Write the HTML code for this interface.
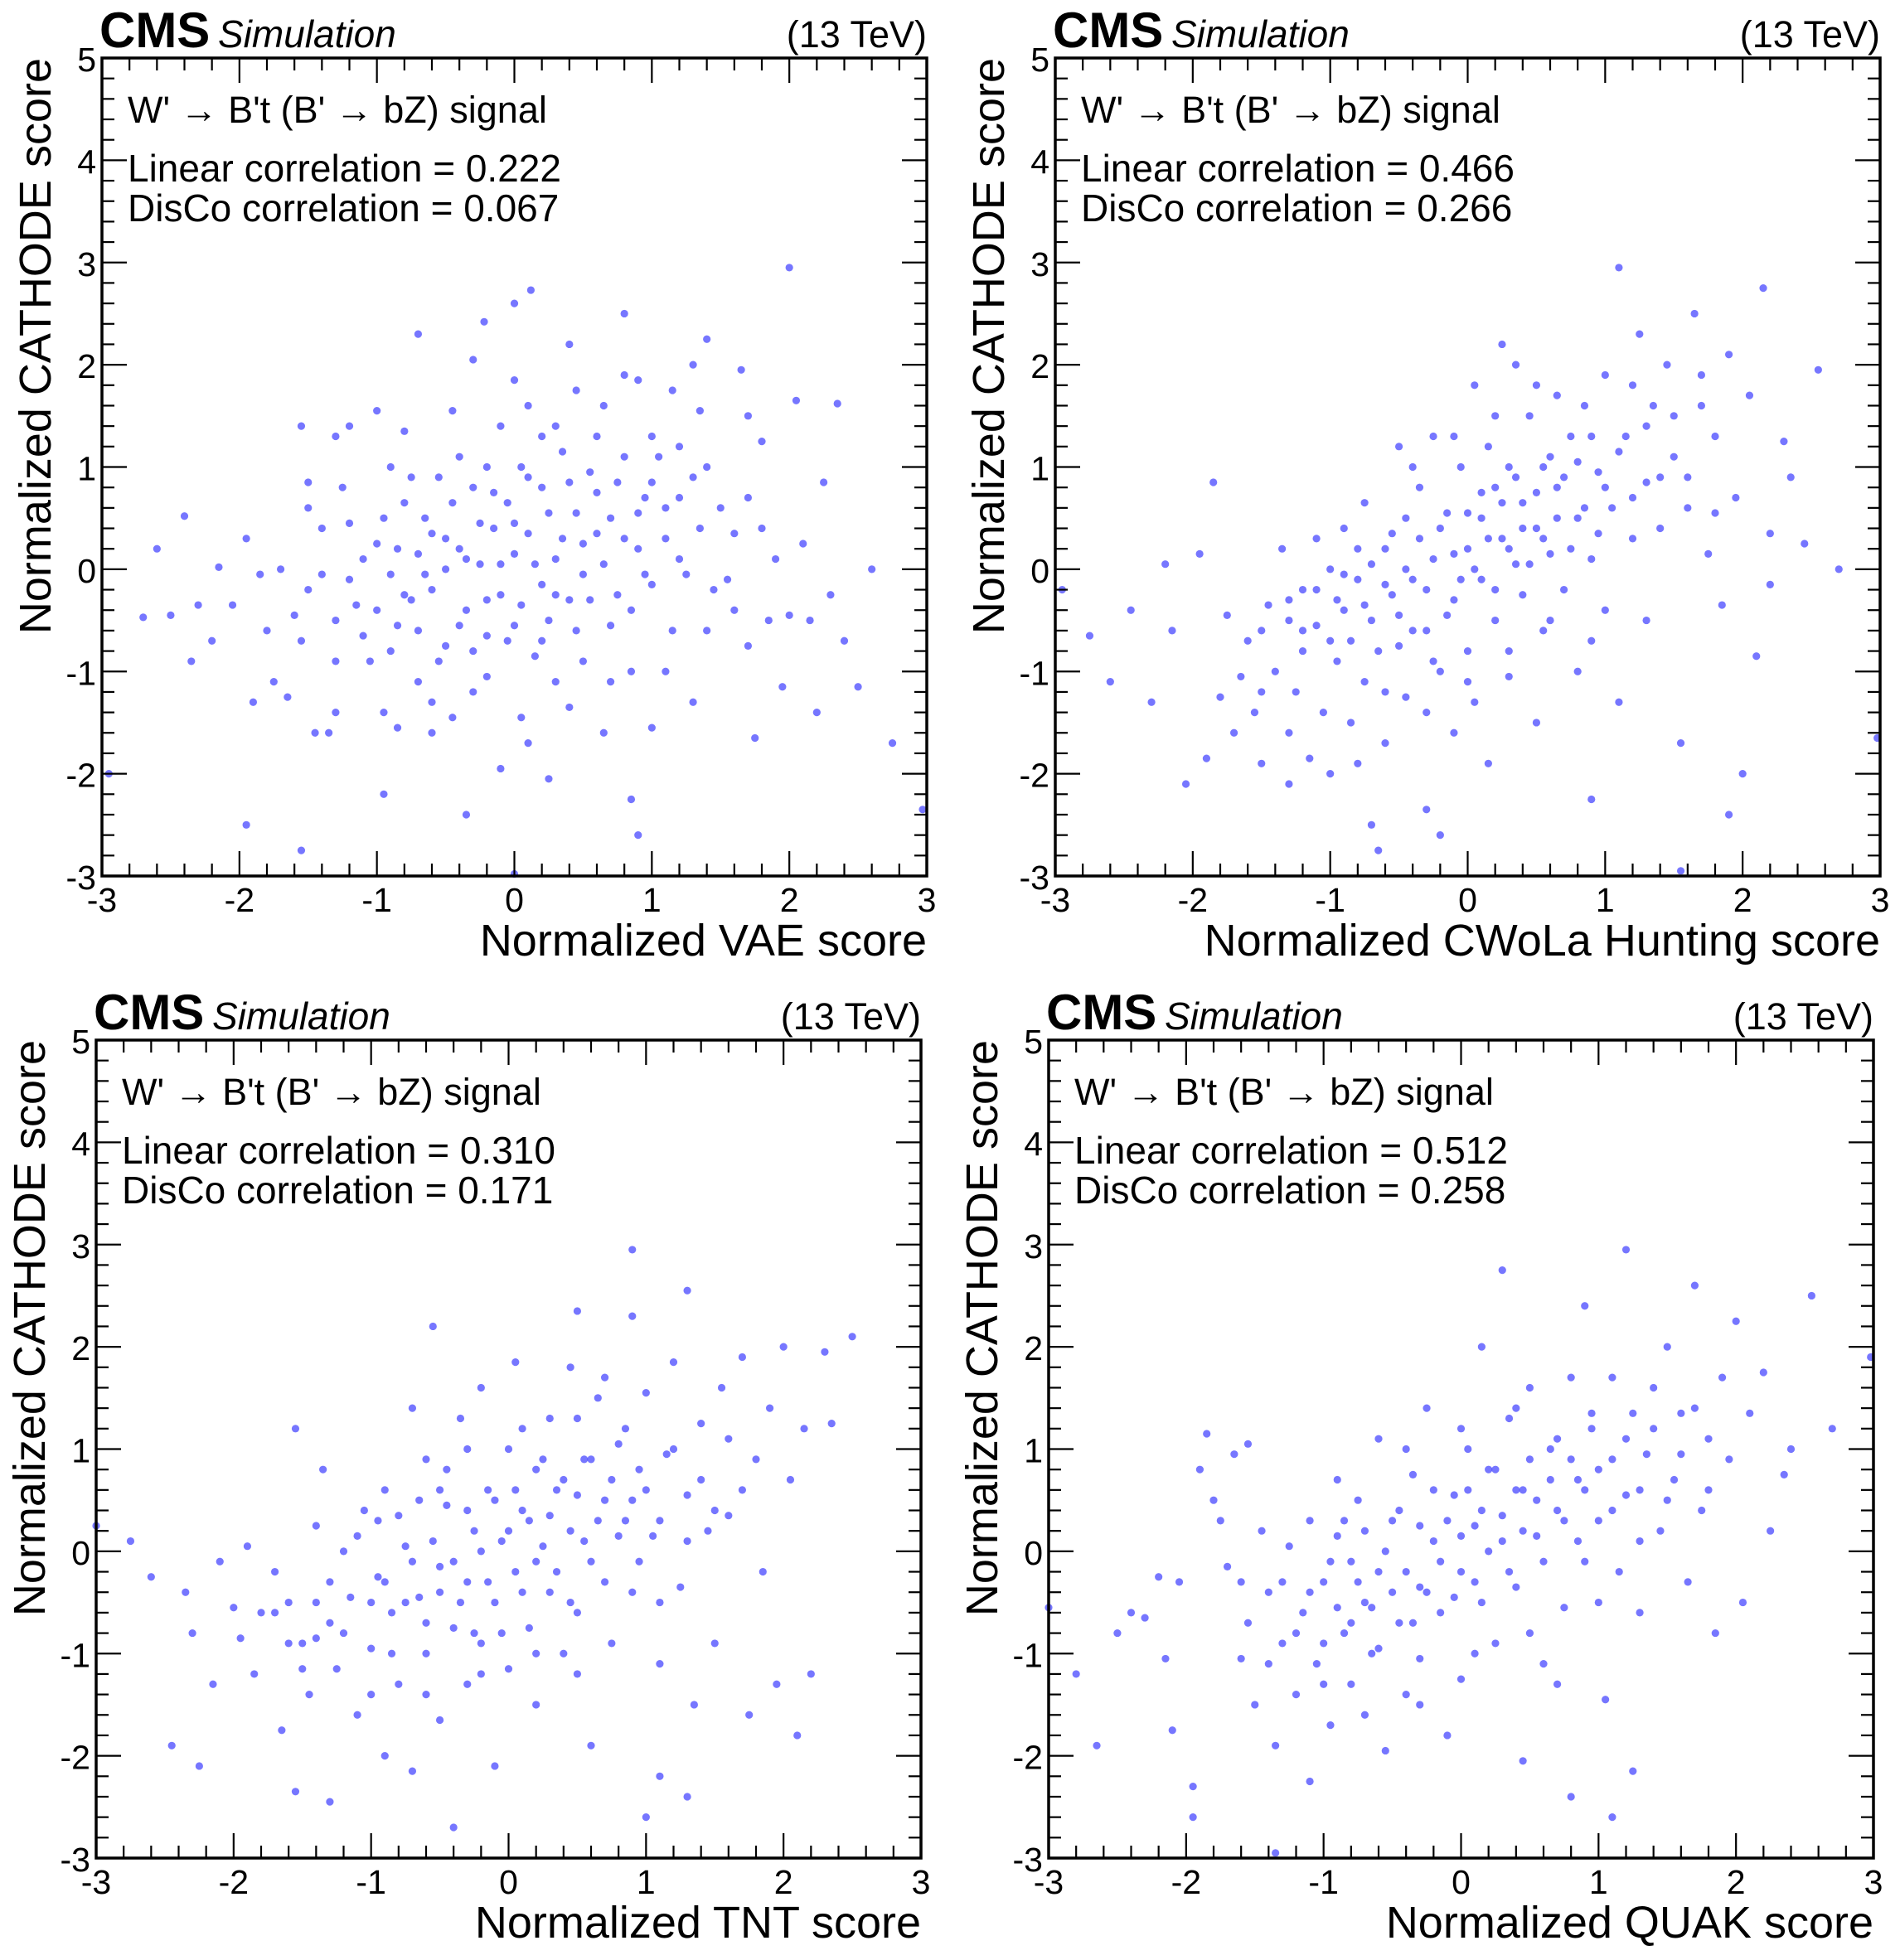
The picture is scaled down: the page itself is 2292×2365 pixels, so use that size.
<!DOCTYPE html>
<html><head><meta charset="utf-8"><style>
body{margin:0;background:#fff}
svg{display:block}
text{font-family:"Liberation Sans",sans-serif;fill:#000}
</style></head><body>
<svg id="root" width="2292" height="2365" viewBox="0 0 2292 2365" xmlns="http://www.w3.org/2000/svg"></svg>
<script>
const xTicks = [-3,-2,-1,0,1,2,3];
const yTicks = [-3,-2,-1,0,1,2,3,4,5];
const xTitles = ["Normalized VAE score","Normalized CWoLa Hunting score","Normalized TNT score","Normalized QUAK score"];
const linearCorr = ["0.222","0.466","0.310","0.512"];
const discoCorr = ["0.067","0.266","0.171","0.258"];
const vaePoints = [[2.0,2.95],[0.12,2.73],[0,2.6],[-0.22,2.42],[0.8,2.5],[-0.7,2.3],[1.4,2.25],[0.4,2.2],[-0.3,2.05],[0,1.85],[1.65,1.95],[1.3,2.0],[2.05,1.65],[2.35,1.62],[1.15,1.75],[0.8,1.9],[0.9,1.85],[-1.0,1.55],[-1.55,1.4],[-1.3,1.3],[-1.2,1.4],[-0.8,1.35],[-0.45,1.55],[0.1,1.6],[0.3,1.4],[0.65,1.6],[1.35,1.55],[1.7,1.5],[1.8,1.25],[-2.4,0.52],[-2.6,0.2],[-2.7,-0.47],[-2.5,-0.45],[-2.3,-0.35],[-2.35,-0.9],[-2.2,-0.7],[-2.15,0.02],[-2.05,-0.35],[-1.95,0.3],[-1.85,-0.05],[-1.9,-1.3],[-1.75,-1.1],[-1.65,-1.25],[-1.6,-0.45],[-1.55,-0.7],[-1.5,0.6],[-1.45,-1.6],[-1.5,0.85],[-1.4,-0.05],[-1.35,-1.6],[-1.3,-0.9],[-1.3,-1.4],[-1.25,0.8],[-1.2,0.45],[-1.15,-0.35],[-1.1,-0.65],[-1.0,0.25],[-1.05,-0.9],[-0.95,-1.4],[-0.9,-0.05],[-0.85,-0.55],[-0.85,-1.55],[-0.8,0.65],[-0.75,-0.3],[-0.7,0.15],[-0.7,-1.1],[-0.65,0.5],[-0.6,-0.2],[-0.6,-1.3],[-0.55,0.9],[-0.5,0.3],[-0.5,-0.75],[-0.45,-1.45],[-0.4,0.2],[-0.35,-0.4],[-0.3,0.8],[-0.3,-1.2],[-0.25,0.05],[-0.2,-0.65],[-0.2,1.0],[-0.15,0.4],[-0.1,-0.25],[-0.1,-1.95],[-0.05,0.65],[0,-0.55],[0,0.15],[0.05,-1.45],[0.05,1.0],[0.1,0.35],[0.15,-0.85],[0.2,0.8],[0.2,-0.15],[0.25,-0.5],[0.25,-2.05],[0.3,0.1],[0.35,1.15],[0.4,-0.3],[0.4,-1.35],[0.45,0.55],[0.5,-0.05],[0.5,-0.9],[0.55,0.95],[0.6,0.35],[0.65,-1.6],[0.7,0.5],[0.75,-0.25],[0.8,1.1],[0.85,-1.0],[0.85,-2.25],[0.9,0.2],[0.9,-2.6],[0.95,0.7],[1.0,-0.15],[1.0,-1.55],[1.05,1.1],[1.1,0.3],[1.15,-0.6],[1.2,0.7],[1.25,-0.05],[1.3,-1.3],[1.35,0.4],[1.4,1.0],[1.45,-0.2],[1.5,0.6],[1.55,-0.1],[1.6,0.35],[1.7,-0.75],[1.75,-1.65],[1.8,0.4],[1.85,-0.5],[1.9,0.1],[1.95,-1.15],[2.0,-0.45],[2.1,0.25],[2.15,-0.5],[2.2,-1.4],[2.25,0.85],[2.3,-0.25],[2.4,-0.7],[2.5,-1.15],[2.6,0.0],[2.75,-1.7],[2.97,-2.35],[-2.95,-2.0],[-1.55,-2.75],[-1.95,-2.5],[-0.35,-2.4],[0,-2.98],[-0.95,-2.2]];
const vaeCore = [[-1.2,-0.1],[-1.1,0.1],[-1.0,-0.4],[-0.95,0.5],[-0.9,-0.8],[-0.85,0.2],[-0.8,-0.25],[-0.75,0.9],[-0.7,-0.6],[-0.65,-0.05],[-0.6,0.35],[-0.55,-0.9],[-0.5,0.0],[-0.45,0.65],[-0.4,-0.55],[-0.35,0.1],[-0.3,-0.8],[-0.25,0.45],[-0.2,-0.3],[-0.15,0.75],[-0.1,0.05],[-0.05,-0.7],[0,0.45],[0.05,-0.35],[0.1,0.9],[0.15,0.05],[0.2,-0.7],[0.25,0.55],[0.3,-0.25],[0.35,0.3],[0.4,0.85],[0.45,-0.6],[0.5,0.25],[0.55,-0.3],[0.6,0.75],[0.65,0.05],[0.7,-0.55],[0.75,0.85],[0.8,0.3],[0.85,-0.4],[0.9,0.55],[0.95,-0.05],[1.0,0.85],[1.1,0.6],[1.2,0.1],[1.3,0.9],[1.4,-0.6],[-1.4,0.4],[-1.3,-0.5],[-1.5,-0.2],[-0.4,1.1],[0.2,1.3],[0.6,1.3],[1.0,1.3],[-0.2,-1.05],[0.3,-1.1],[0.7,-1.1],[1.1,-1.0],[-0.6,-1.6],[0.1,-1.7],[-1.7,0.0],[-1.8,-0.6],[1.6,-0.4],[1.7,0.7],[-0.9,1.0],[0.45,1.75],[-0.1,1.4],[1.2,1.2]];
const cwolaPoints = [[-2.95,-0.2],[-2.75,-0.65],[-2.6,-1.1],[-2.45,-0.4],[-2.3,-1.3],[-2.2,0.05],[-2.15,-0.6],[-2.05,-2.1],[-1.95,0.15],[-1.9,-1.85],[-1.85,0.85],[-1.8,-1.25],[-1.75,-0.45],[-1.7,-1.6],[-1.65,-1.05],[-1.6,-0.7],[-1.55,-1.4],[-1.5,-0.6],[-1.5,-1.9],[-1.45,-0.35],[-1.4,-1.0],[-1.35,0.2],[-1.3,-0.5],[-1.3,-2.1],[-1.25,-1.2],[-1.2,-0.2],[-1.2,-0.8],[-1.15,-1.85],[-1.1,0.3],[-1.1,-0.55],[-1.05,-1.4],[-1.0,0.0],[-1.0,-2.0],[-0.95,-0.9],[-0.9,0.4],[-0.9,-0.4],[-0.85,-1.5],[-0.8,-0.1],[-0.75,0.65],[-0.75,-1.1],[-0.7,-0.5],[-0.7,-2.5],[-0.65,-2.75],[-0.6,0.2],[-0.6,-1.7],[-0.55,-0.25],[-0.5,1.2],[-0.5,-0.75],[-0.45,0.5],[-0.45,-1.25],[-0.4,-0.1],[-0.35,0.8],[-0.3,-0.6],[-0.3,-2.35],[-0.25,1.3],[-0.25,0.1],[-0.2,-1.0],[-0.2,-2.6],[-0.15,0.55],[-0.1,-0.3],[-0.1,-1.6],[-0.05,1.0],[0,0.2],[0,-0.8],[0.05,1.8],[0.05,-1.3],[0.1,0.5],[0.1,-0.1],[0.15,1.2],[0.15,-1.9],[0.2,0.8],[0.2,-0.5],[0.25,2.2],[0.25,0.3],[0.3,1.0],[0.3,-1.05],[0.35,0.05],[0.35,2.0],[0.4,0.65],[0.4,-0.25],[0.45,1.5],[0.5,0.4],[0.5,-1.5],[0.55,1.0],[0.55,-0.6],[0.6,0.15],[0.65,1.7],[0.65,0.8],[0.7,-0.2],[0.75,1.3],[0.8,0.5],[0.8,-1.0],[0.85,1.6],[0.9,0.1],[0.9,-2.25],[0.95,0.95],[1.0,-0.4],[1.0,1.9],[1.05,0.6],[1.1,2.95],[1.1,-1.3],[1.15,1.3],[1.2,0.3],[1.25,2.3],[1.3,0.85],[1.3,-0.5],[1.35,1.6],[1.4,0.4],[1.45,2.0],[1.5,1.1],[1.55,-1.7],[1.6,0.6],[1.65,2.5],[1.7,1.9],[1.75,0.15],[1.8,1.3],[1.85,-0.35],[1.9,2.1],[1.95,0.7],[2.0,-2.0],[2.05,1.7],[2.1,-0.85],[2.15,2.75],[2.2,0.35],[2.3,1.25],[2.35,0.9],[2.45,0.25],[2.55,1.95],[2.7,0.0],[2.98,-1.65],[1.55,-2.95],[1.9,-2.4],[2.2,-0.15]];
const cwolaCore = [[-1.3,-0.3],[-1.2,-0.6],[-1.1,-0.2],[-1.0,-0.7],[-0.95,-0.3],[-0.9,-0.05],[-0.85,-0.7],[-0.8,0.2],[-0.75,-0.35],[-0.7,0.05],[-0.65,-0.8],[-0.6,-0.15],[-0.55,0.35],[-0.5,-0.45],[-0.45,0.0],[-0.4,-0.6],[-0.35,0.3],[-0.3,-0.2],[-0.25,-0.9],[-0.2,0.4],[-0.15,-0.45],[-0.1,0.15],[-0.05,-0.1],[0,0.55],[0.05,0.0],[0.1,0.75],[0.15,0.3],[0.2,-0.2],[0.25,0.65],[0.3,0.2],[0.35,0.9],[0.4,0.4],[0.45,0.05],[0.5,0.75],[0.55,0.3],[0.6,1.1],[0.65,0.5],[0.7,0.9],[0.75,0.2],[0.8,1.05],[0.85,0.6],[0.9,1.3],[0.95,0.35],[1.0,0.8],[1.1,1.15],[1.2,0.7],[1.3,1.4],[1.4,0.9],[1.5,1.5],[1.6,0.9],[-0.4,1.0],[-0.1,1.3],[0.2,1.5],[0.5,1.8],[0.3,-0.8],[0.6,-0.5],[0.9,-0.7],[-0.6,-1.2],[-0.3,-1.4],[0.0,-1.1],[-1.5,-1.2],[-1.3,-1.6],[1.2,1.8],[1.7,1.6],[1.8,0.55],[-0.8,-1.9]];
const tntPoints = [[-3,0.25],[-2.75,0.1],[-2.6,-0.25],[-2.45,-1.9],[-2.35,-0.4],[-2.3,-0.8],[-2.25,-2.1],[-2.15,-1.3],[-2.1,-0.1],[-2.0,-0.55],[-1.95,-0.85],[-1.9,0.05],[-1.85,-1.2],[-1.8,-0.6],[-1.7,-0.2],[-1.65,-1.75],[-1.6,-0.5],[-1.55,-2.35],[-1.55,1.2],[-1.5,-0.9],[-1.45,-1.4],[-1.4,0.25],[-1.35,0.8],[-1.3,-0.7],[-1.3,-2.45],[-1.25,-1.15],[-1.2,0.0],[-1.15,-0.45],[-1.1,-1.6],[-1.05,0.4],[-1.0,-0.95],[-0.95,-0.25],[-0.9,-2.0],[-0.9,0.6],[-0.85,-0.6],[-0.8,-1.3],[-0.75,0.05],[-0.7,1.4],[-0.7,-2.15],[-0.65,-0.45],[-0.6,0.9],[-0.6,-1.0],[-0.55,2.2],[-0.5,-0.15],[-0.5,-1.65],[-0.45,0.45],[-0.4,-0.75],[-0.4,-2.7],[-0.35,1.3],[-0.3,-0.3],[-0.3,-1.3],[-0.25,0.2],[-0.2,-0.9],[-0.2,1.6],[-0.15,0.6],[-0.1,-0.5],[-0.1,-2.1],[-0.05,0.1],[0,1.0],[0,-1.15],[0.05,1.85],[0.05,-0.2],[0.1,0.4],[0.15,-0.75],[0.2,0.8],[0.2,-1.5],[0.25,0.05],[0.3,1.3],[0.3,-0.4],[0.35,0.6],[0.4,-1.0],[0.45,1.8],[0.45,0.2],[0.5,2.35],[0.5,-0.6],[0.55,0.9],[0.6,-0.1],[0.6,-1.9],[0.65,1.5],[0.7,0.5],[0.75,-0.9],[0.8,1.05],[0.85,0.3],[0.9,2.3],[0.9,-0.4],[0.95,0.8],[1.0,1.55],[1.0,-2.6],[1.05,0.15],[1.1,-1.1],[1.1,-2.2],[1.15,0.95],[1.2,1.85],[1.25,-0.35],[1.3,2.55],[1.3,0.55],[1.35,-1.5],[1.4,1.25],[1.45,0.2],[1.5,-0.9],[1.55,1.6],[1.6,0.35],[1.7,1.9],[1.75,-1.6],[1.8,0.9],[1.85,-0.2],[1.9,1.4],[1.95,-1.3],[2.0,2.0],[2.05,0.7],[2.1,-1.8],[2.15,1.2],[2.2,-1.2],[2.3,1.95],[2.35,1.25],[2.5,2.1],[0.9,2.95],[1.3,-2.4],[-1.4,-0.85]];
const tntCore = [[-1.3,-0.3],[-1.2,-0.8],[-1.1,0.15],[-1.0,-0.5],[-0.95,0.3],[-0.9,-0.3],[-0.85,-1.0],[-0.8,0.35],[-0.75,-0.5],[-0.7,-0.1],[-0.65,0.5],[-0.6,-0.7],[-0.55,0.1],[-0.5,-0.4],[-0.45,0.8],[-0.4,-0.1],[-0.35,-0.5],[-0.3,0.4],[-0.25,-0.8],[-0.2,0.0],[-0.15,-0.3],[-0.1,0.5],[-0.05,-0.8],[0,0.2],[0.05,0.6],[0.1,-0.4],[0.15,0.3],[0.2,-0.1],[0.25,0.9],[0.3,0.35],[0.35,-0.2],[0.4,0.7],[0.45,-0.5],[0.5,0.55],[0.55,0.1],[0.6,0.9],[0.65,0.3],[0.7,-0.3],[0.75,0.7],[0.8,0.15],[0.85,1.2],[0.9,0.5],[0.95,-0.1],[1.0,0.6],[1.1,0.3],[1.2,1.0],[1.3,0.1],[1.4,0.7],[1.5,0.4],[1.6,1.1],[-1.6,-0.9],[-1.7,-0.6],[-1.4,-0.5],[-1.5,-1.15],[-0.3,1.0],[0.1,1.2],[0.5,1.3],[0.7,1.7],[-0.6,-1.4],[-0.2,-1.2],[0.2,-1.0],[0.5,-1.2],[-1.0,-1.4],[1.1,-0.5],[1.7,0.6],[-0.5,0.6]];
const quakPoints = [[-3,-0.55],[-2.8,-1.2],[-2.65,-1.9],[-2.5,-0.8],[-2.4,-0.6],[-2.3,-0.65],[-2.2,-0.25],[-2.15,-1.05],[-2.1,-1.75],[-2.05,-0.3],[-1.95,-2.3],[-1.95,-2.6],[-1.9,0.8],[-1.85,1.15],[-1.8,0.5],[-1.75,0.3],[-1.7,-0.15],[-1.65,0.95],[-1.6,-1.05],[-1.55,1.05],[-1.55,-0.7],[-1.5,-1.5],[-1.45,0.2],[-1.4,-0.4],[-1.35,-1.9],[-1.3,-0.9],[-1.25,0.05],[-1.2,-1.4],[-1.15,-0.6],[-1.1,-2.25],[-1.1,0.3],[-1.05,-1.1],[-1.0,-0.3],[-0.95,-1.7],[-0.9,0.15],[-0.85,-0.8],[-0.8,-0.1],[-0.8,-1.3],[-0.75,0.5],[-0.7,-0.5],[-0.65,-1.0],[-0.6,1.1],[-0.6,-0.2],[-0.55,-1.95],[-0.5,0.3],[-0.45,-0.7],[-0.4,-1.4],[-0.35,0.75],[-0.3,-0.35],[-0.3,-1.05],[-0.25,1.4],[-0.2,0.1],[-0.15,-0.6],[-0.1,-1.8],[-0.05,0.55],[0,-0.2],[0,-1.25],[0.05,1.0],[0.1,0.25],[0.15,-0.5],[0.15,2.0],[0.2,0.8],[0.25,-0.9],[0.3,2.75],[0.3,0.1],[0.35,1.3],[0.4,-0.35],[0.45,0.6],[0.45,-2.05],[0.5,1.6],[0.55,0.15],[0.6,-1.1],[0.65,1.0],[0.7,0.4],[0.75,-0.55],[0.8,1.7],[0.85,0.7],[0.9,-0.1],[0.9,2.4],[0.95,1.2],[1.0,0.3],[1.05,-1.45],[1.1,0.9],[1.1,1.7],[1.15,-0.2],[1.2,2.95],[1.2,0.55],[1.25,1.35],[1.3,-0.6],[1.35,0.95],[1.4,1.6],[1.45,0.2],[1.5,2.0],[1.55,0.7],[1.6,1.35],[1.65,-0.3],[1.7,2.6],[1.75,0.4],[1.8,1.1],[1.85,-0.8],[1.9,1.7],[1.95,0.9],[2.0,2.25],[2.05,-0.5],[2.1,1.35],[2.2,1.75],[2.25,0.2],[2.35,0.75],[2.4,1.0],[2.55,2.5],[2.7,1.2],[2.98,1.9],[-1.35,-2.95],[0.8,-2.4],[1.1,-2.6],[1.25,-2.15]];
const quakCore = [[-1.2,-0.8],[-1.1,-0.4],[-1.0,-0.9],[-0.95,-0.1],[-0.9,-0.55],[-0.85,0.3],[-0.8,-0.7],[-0.75,-0.3],[-0.7,0.2],[-0.65,-0.55],[-0.6,-0.95],[-0.55,0.0],[-0.5,-0.4],[-0.45,0.4],[-0.4,-0.2],[-0.35,-0.7],[-0.3,0.25],[-0.25,-0.4],[-0.2,0.6],[-0.15,-0.1],[-0.1,0.3],[-0.05,-0.45],[0,0.15],[0.05,0.6],[0.1,-0.3],[0.15,0.4],[0.2,0.0],[0.25,0.8],[0.3,0.35],[0.35,-0.2],[0.4,0.6],[0.45,0.2],[0.5,0.9],[0.55,0.5],[0.6,-0.1],[0.65,0.7],[0.7,1.1],[0.75,0.3],[0.8,0.9],[0.85,0.1],[0.9,0.6],[0.95,1.35],[1.0,0.8],[1.1,0.4],[1.2,1.1],[1.3,0.6],[1.4,1.2],[1.5,0.5],[1.6,0.95],[1.7,1.4],[-1.4,-1.1],[-1.3,-0.3],[-1.6,-0.3],[-0.3,-1.5],[0.1,-1.0],[0.5,-0.8],[-0.7,-1.6],[0.0,1.2],[0.4,1.4],[-0.4,1.0],[1.0,-0.5],[1.3,0.1],[-1.0,-1.3],[-0.9,0.7],[0.7,-1.3],[1.8,0.6]];
const allPoints = [vaePoints.concat(vaeCore), cwolaPoints.concat(cwolaCore), tntPoints.concat(tntCore), quakPoints.concat(quakCore)];
const panelNames = ["vae","cwola","tnt","quak"];
const NS = "http://www.w3.org/2000/svg";
const root = document.getElementById('root');
const frames = [[123,70],[1273,70],[116,1255],[1265,1255]];
const W = 995, H = 987;
function mk(tag, attrs, parent, txt){
  const e = document.createElementNS(NS, tag);
  for (const k in attrs) e.setAttribute(k, attrs[k]);
  if (txt !== undefined) e.textContent = txt;
  parent.appendChild(e); return e;
}
for (let p = 0; p < 4; p++) {
  const [L, T] = frames[p];
  const R = L + W, B = T + H;
  const sx = v => L + (v + 3) / 6 * W;
  const sy = v => B - (v + 3) / 8 * H;
  const g = mk('g', {}, root);
  
  
  const pg = mk('g', {}, g);
  
  
  for (const pt of allPoints[p]) {
    const c = mk('circle', {cx: sx(pt[0]), cy: sy(pt[1]), r: 4.6, fill: 'rgba(60,60,255,0.7)'}, pg);
    
    
  }
  const tg = mk('g', {stroke: '#000', 'stroke-width': 2.2}, g);
  
  
  for (let i = 0; i <= 30; i++) {
    const v = -3 + i * 0.2, x = sx(v), len = (i % 5 === 0) ? 30 : 15;
    mk('line', {x1: x, x2: x, y1: B, y2: B - len}, tg);
    mk('line', {x1: x, x2: x, y1: T, y2: T + len}, tg);
  }
  for (let i = 0; i <= 40; i++) {
    const v = -3 + i * 0.2, y = sy(v), len = (i % 5 === 0) ? 30 : 15;
    mk('line', {x1: L, x2: L + len, y1: y, y2: y}, tg);
    mk('line', {x1: R, x2: R - len, y1: y, y2: y}, tg);
  }
  const fr = mk('rect', {x: L, y: T, width: W, height: H, fill: 'none', stroke: '#000', 'stroke-width': 3.5}, g);
  
  
  for (const v of xTicks) {
    const t = mk('text', {x: sx(v), y: B + 43, 'font-size': 41, 'text-anchor': 'middle'}, g, String(v));
    
    
  }
  for (const v of yTicks) {
    const t = mk('text', {x: L - 7, y: sy(v) + 16, 'font-size': 41, 'text-anchor': 'end'}, g, String(v));
    
    
  }
  const xt = mk('text', {x: R, y: B + 96, 'font-size': 54, 'text-anchor': 'end'}, g, xTitles[p]);
  
  
  const yt = mk('text', {x: 0, y: 0, 'font-size': 54, 'text-anchor': 'end', transform: `translate(${L - 62},${T}) rotate(-90)`}, g, 'Normalized CATHODE score');
  
  
  const cms = mk('text', {x: L - 3, y: T - 13, 'font-size': 60, 'font-weight': 'bold'}, g, 'CMS');
  
  
  const sim = mk('text', {x: L + 140, y: T - 13, 'font-size': 46, 'font-style': 'italic'}, g, 'Simulation');
  
  
  const en = mk('text', {x: R, y: T - 13, 'font-size': 45, 'text-anchor': 'end'}, g, '(13 TeV)');
  
  
  const s1 = mk('text', {x: L + 31, y: T + 78, 'font-size': 45}, g, "W' \u2192 B't (B' \u2192 bZ) signal");
  
  
  const s2 = mk('text', {x: L + 31, y: T + 149, 'font-size': 46}, g, 'Linear correlation = ' + linearCorr[p]);
  
  
  const s3 = mk('text', {x: L + 31, y: T + 197, 'font-size': 46}, g, 'DisCo correlation = ' + discoCorr[p]);
  
  
}
</script>
</body></html>
